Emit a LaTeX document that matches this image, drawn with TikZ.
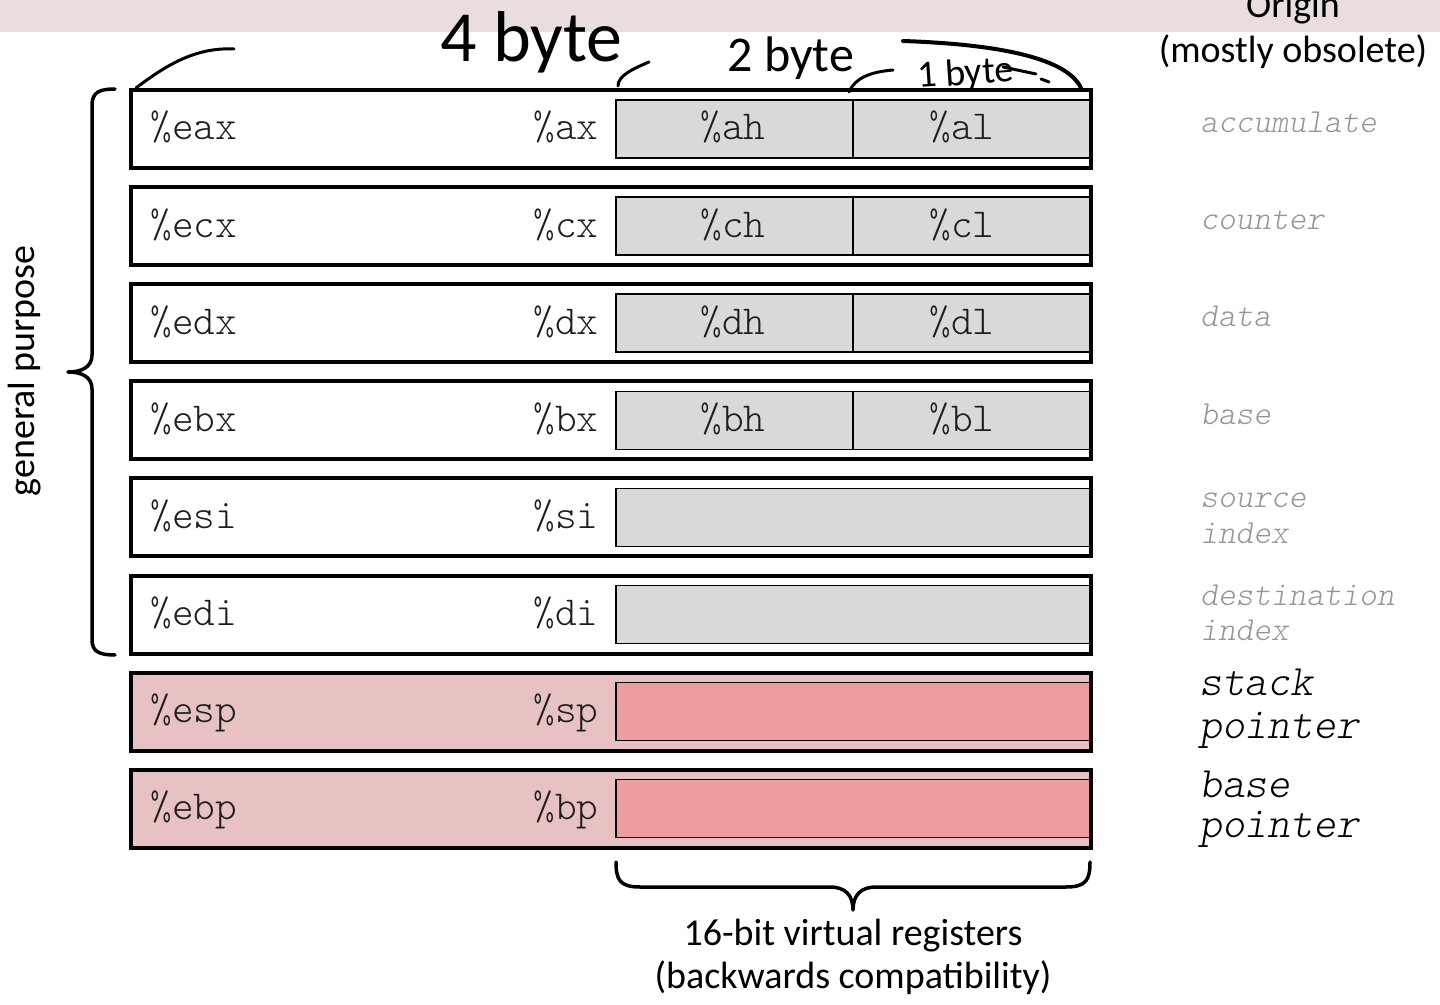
\documentclass[tikz,border=0pt]{standalone}
\usepackage{fontspec}
\setmainfont{Carlito}
\newfontfamily\mono{lmmonolt10-regular}[Extension=.otf, ItalicFont=lmmonolt10-oblique]
\definecolor{band}{RGB}{233,221,222}
\definecolor{gfill}{RGB}{217,217,217}
\definecolor{pinkA}{RGB}{232,193,195}
\definecolor{pinkB}{RGB}{239,158,158}
\definecolor{origc}{RGB}{150,150,150}
\definecolor{regc}{RGB}{30,30,30}
\begin{document}
\begin{tikzpicture}[x=0.5pt,y=-0.5pt,
 regbox/.style={draw=black, line width=2pt, minimum width=480pt, minimum height=39pt, anchor=north west, inner sep=0pt, outer sep=0pt},
 subbox/.style={draw=black, line width=0.75pt, minimum height=29pt, anchor=north west, inner sep=0pt, outer sep=0pt},
 regtxt/.style={font=\mono\fontsize{20.6}{22}\selectfont, text=regc, inner sep=0pt},
 origtxt/.style={font=\mono\itshape\fontsize{16.8}{18}\selectfont, text=origc, inner sep=0pt, anchor=base west},
 origbig/.style={font=\mono\itshape\fontsize{21.7}{24}\selectfont, text=black, inner sep=0pt, anchor=base west},
 sanstxt/.style={font=\fontsize{19}{22}\selectfont, inner sep=0pt, anchor=base},
 hand/.style={line width=1.5pt, line cap=round, line join=round},
 handtxt/.style={inner sep=0pt, anchor=base west},
 bracestroke/.style={line width=1.75pt, line cap=round, line join=round}
]
\useasboundingbox (0,0) rectangle (1440,1005);
\fill[band] (0,0) rectangle (1440,32);

% registers with high/low bytes
\foreach \i/\e/\x/\h/\l in {0/eax/ax/ah/al, 1/ecx/cx/ch/cl, 2/edx/dx/dh/dl, 3/ebx/bx/bh/bl} {
  \pgfmathsetmacro\t{90+97.1*\i}
  \node[regbox, fill=white] (r\e) at (131,\t) {};
  \node[subbox, fill=gfill, minimum width=118.5pt] (s\h) at (616,\t+10) {};
  \node[subbox, fill=gfill, minimum width=118.5pt] (s\l) at (853,\t+10) {};
  \node[regtxt, anchor=base west] (t\e) at (150,\t+50) {\%\e};
  \node[regtxt, anchor=base east] (t\x) at (599,\t+50) {\%\x};
  \node[regtxt, anchor=base] (t\h) at (733,\t+50) {\%\h};
  \node[regtxt, anchor=base] (t\l) at (962,\t+50) {\%\l};
}
% registers without byte halves
\foreach \i/\e/\x/\fa/\fb in {4/esi/si/white/gfill, 5/edi/di/white/gfill, 6/esp/sp/pinkA/pinkB, 7/ebp/bp/pinkA/pinkB} {
  \pgfmathsetmacro\t{90+97.1*\i}
  \node[regbox, fill=\fa] (r\e) at (131,\t) {};
  \node[subbox, fill=\fb, minimum width=237pt] (s\x) at (616,\t+10) {};
  \node[regtxt, anchor=base west] (t\e) at (150,\t+50) {\%\e};
  \node[regtxt, anchor=base east] (t\x) at (599,\t+50) {\%\x};
}

% origin labels
\node[sanstxt] (origin) at (1293,18) {Origin};
\node[sanstxt] (obsolete) at (1293,63) {(mostly obsolete)};
\node[origtxt] (oacc) at (1200,133) {accumulate};
\node[origtxt] (ocnt) at (1200,230) {counter};
\node[origtxt] (odat) at (1200,327) {data};
\node[origtxt] (obas) at (1200,424) {base};
\node[origtxt] (osrc) at (1200,508) {source};
\node[origtxt] (osrci) at (1200,543) {index};
\node[origtxt] (odst) at (1200,605) {destination};
\node[origtxt] (odsti) at (1200,640) {index};
\node[origbig] (ostk) at (1199,695) {stack};
\node[origbig] (ostkp) at (1199,738) {pointer};
\node[origbig] (obp) at (1199,797) {base};
\node[origbig] (obpp) at (1199,837) {pointer};

% general purpose brace
\draw[bracestroke] (115,89) .. controls (100,89) and (92,92) .. (92,105) -- (92,355)
  .. controls (92,367) and (82,372) .. (68,372) .. controls (82,372) and (92,377) .. (92,389)
  -- (92,640) .. controls (92,652) and (100,655) .. (115,655);
\node[sanstxt, rotate=90] (gp) at (34,371) {general purpose};

% 16-bit brace
\draw[bracestroke] (616,862) .. controls (616,880) and (620,887) .. (640,887) -- (830,887)
  .. controls (845,887) and (853,895) .. (853,910) .. controls (853,895) and (861,887) .. (876,887)
  -- (1066,887) .. controls (1086,887) and (1090,880) .. (1090,862);
\node[sanstxt] (v16) at (853,945) {16-bit virtual registers};
\node[sanstxt] (compat) at (853,988) {(backwards compatibility)};

% handwritten annotations
\node[handtxt, font=\fontsize{36}{40}\selectfont] (h4) at (440,62) {4 byte};
\node[handtxt, font=\fontsize{25}{28}\selectfont] (h2) at (727,72) {2 byte};
\node[handtxt, font=\fontsize{19}{22}\selectfont, rotate=4] (h1) at (918,88) {1 byte};
\draw[hand] (136,88) .. controls (165,66) and (195,47) .. (234,49);
\draw[hand] (618,86) .. controls (618,75) and (635,68) .. (649,62);
\draw[hand] (849,92) .. controls (855,78) and (870,72) .. (893,70);
\draw[hand] (1003,67) -- (1036,74);
\draw[hand] (1041,79) -- (1049,82);
\draw[hand, line width=2pt] (903,41) .. controls (990,44) and (1066,56) .. (1081,88);
\end{tikzpicture}
\end{document}
